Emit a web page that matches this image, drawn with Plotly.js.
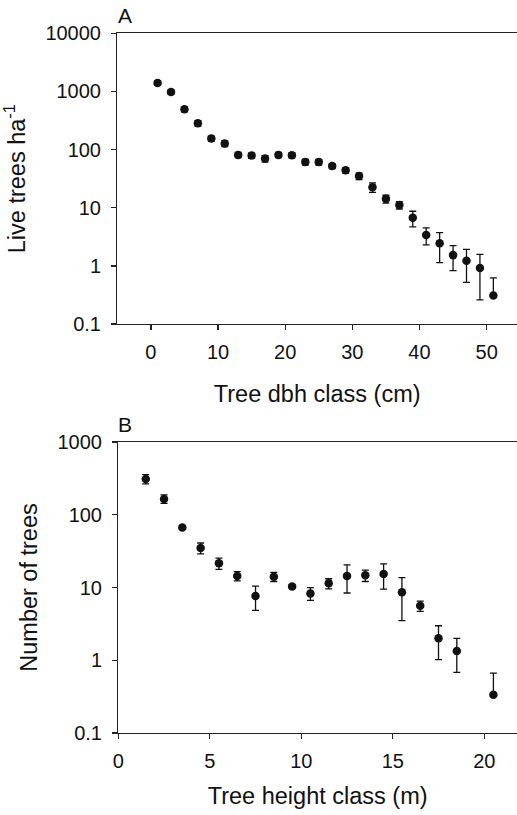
<!DOCTYPE html>
<html>
<head>
<meta charset="utf-8">
<script src="https://cdn.plot.ly/plotly-3.0.1.min.js"></script>
<style>html,body{margin:0;padding:0;background:#fff;}#chart{width:517px;height:815px;}</style>
</head>
<body>
<div id="chart"></div>
<script>
// Panel A: live trees per ha by dbh class
const dbhClass = [1,3,5,7,9,11,13,15,17,19,21,23,25,27,29,31,33,35,37,39,41,43,45,47,49,51];
const liveTrees = [1400,980,494,284,155,127,81,79,70,81,80,61,61,52,44,35,22.6,14.2,11.1,6.7,3.4,2.44,1.53,1.22,0.92,0.31];
const liveSEUp = [120,80,50,30,15,14,8,8,9,8,8,7,7,5,4.5,4.5,4.2,2.2,1.6,2.0,1.1,1.3,0.7,0.7,0.66,0.31];
const liveSEDown = [120,80,50,30,15,14,8,8,9,8,8,7,7,5,4.5,4.5,4.2,2.2,1.6,2.0,1.1,1.3,0.7,0.7,0.66,0];

// Panel B: number of trees by height class
const heightClass = [1.5,2.5,3.5,4.5,5.5,6.5,7.5,8.5,9.5,10.5,11.5,12.5,13.5,14.5,15.5,16.5,17.5,18.5,20.5];
const numTrees = [310,165,67,34.9,21.5,14.4,7.64,14.1,10.3,8.3,11.4,14.4,14.7,15.3,8.6,5.6,2.0,1.34,0.336];
const numSEUp = [45,22,4,6,3.8,2.1,2.8,2,0.6,1.65,1.8,6,2.6,5.8,5.1,0.9,0.98,0.66,0.33];
const numSEDown = [45,22,4,6,3.8,2.1,2.8,2,0.6,1.65,1.8,6,2.6,5.8,5.1,0.9,0.98,0.66,0];

const yTickValsA = [0.1,1,10,100,1000,10000];
const yTickTextA = ['0.1','1','10','100','1000','10000'];
const yTickValsB = [0.1,1,10,100,1000];
const yTickTextB = ['0.1','1','10','100','1000'];
const xTickValsA = [0,10,20,30,40,50];
const xTickValsB = [0,5,10,15,20];

const FONT = 'Liberation Sans, Arial, sans-serif';
const INK = '#111';

function errStyle(up, down){
  return {type:'data', symmetric:false, array:up, arrayminus:down, color:INK, thickness:1.3, width:3.5, visible:true};
}

const traces = [
  {x: dbhClass, y: liveTrees, xaxis:'x', yaxis:'y', type:'scatter', mode:'markers',
   marker:{color:INK, size:8.5}, error_y: errStyle(liveSEUp, liveSEDown), showlegend:false, cliponaxis:false},
  {x: heightClass, y: numTrees, xaxis:'x2', yaxis:'y2', type:'scatter', mode:'markers',
   marker:{color:INK, size:8.5}, error_y: errStyle(numSEUp, numSEDown), showlegend:false, cliponaxis:false}
];

const axisCommon = {
  showline:true, linecolor:'#222', linewidth:1.3, ticks:'outside', ticklen:5, tickwidth:1.3, tickcolor:'#222',
  showgrid:false, zeroline:false, tickfont:{family:FONT, size:20, color:INK}, fixedrange:true
};

const TITLE_FONT = {family:FONT, size:23.5, color:INK};

const layout = {
  width:517, height:815,
  margin:{l:0, r:0, t:0, b:0},
  paper_bgcolor:'#fff', plot_bgcolor:'#fff',
  font:{family:FONT, color:INK},
  showlegend:false,
  xaxis: Object.assign({}, axisCommon, {
    domain:[117.3/517, 1], anchor:'y', range:[-5, 54.52], tickmode:'array', tickvals:xTickValsA,
    mirror:true, ticklabelstandoff:5,
    title:{text:'Tree dbh class (cm)', font:TITLE_FONT, standoff:23}
  }),
  yaxis: Object.assign({}, axisCommon, {
    domain:[(815-324)/815, (815-33.3)/815], anchor:'x', type:'log', range:[-1, 4],
    tickmode:'array', tickvals:yTickValsA, ticktext:yTickTextA, ticklabelstandoff:6,
    title:{text:'Live trees ha<sup>-1</sup>', font:TITLE_FONT, standoff:13}
  }),
  xaxis2: Object.assign({}, axisCommon, {
    domain:[118.3/517, 1], anchor:'y2', range:[0, 21.79], tickmode:'array', tickvals:xTickValsB,
    mirror:true, ticklabelstandoff:5,
    title:{text:'Tree height class (m)', font:TITLE_FONT, standoff:16}
  }),
  yaxis2: Object.assign({}, axisCommon, {
    domain:[(815-733)/815, (815-442)/815], anchor:'x2', type:'log', range:[-1, 3],
    tickmode:'array', tickvals:yTickValsB, ticktext:yTickTextB, ticklabelstandoff:6,
    title:{text:'Number of trees', font:TITLE_FONT, standoff:13}
  }),
  annotations:[
    {text:'A', xref:'paper', yref:'paper', x:116/517, y:(815-16)/815, xanchor:'left', yanchor:'middle', showarrow:false,
     font:{family:FONT, size:21, color:INK}},
    {text:'B', xref:'paper', yref:'paper', x:116/517, y:(815-424)/815, xanchor:'left', yanchor:'middle', showarrow:false,
     font:{family:FONT, size:21, color:INK}}
  ]
};

Plotly.newPlot('chart', traces, layout, {displayModeBar:false, staticPlot:true});
</script>
</body>
</html>
